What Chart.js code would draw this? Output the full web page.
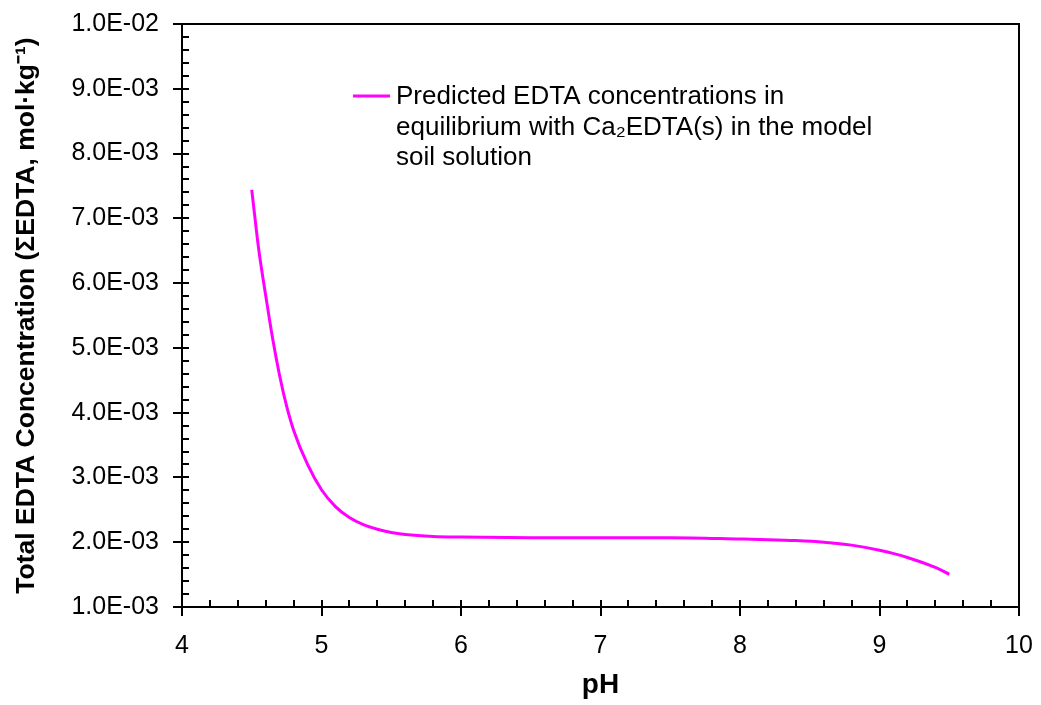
<!DOCTYPE html>
<html>
<head>
<meta charset="utf-8">
<title>Total EDTA concentration vs pH</title>
<script src="https://cdn.jsdelivr.net/npm/chart.js@4/dist/chart.umd.min.js"></script>
<style>
  html, body { margin: 0; padding: 0; background: #fff; }
  #wrap { width: 1041px; height: 705px; }
</style>
</head>
<body>
<div id="wrap"><canvas id="edtaChart" width="1041" height="705"></canvas></div>
<script>
// values
const phValues = [4.5, 4.55, 4.6, 4.65, 4.7, 4.75, 4.8, 4.9, 5.0, 5.1, 5.2, 5.3, 5.4, 5.5,
                  5.6, 5.8, 6.0, 6.5, 7.0, 7.5, 8.0, 8.2, 8.4, 8.6, 8.8, 9.0, 9.2, 9.4, 9.5];
const edtaTotal = [0.00744, 0.00652, 0.00581, 0.00514, 0.00457, 0.00410, 0.00373, 0.00320,
                   0.00281, 0.00255, 0.00238, 0.00227, 0.00220, 0.00215, 0.00212, 0.00209,
                   0.00208, 0.00207, 0.00207, 0.00207, 0.00205, 0.00204, 0.002025, 0.00200,
                   0.001955, 0.001875, 0.001765, 0.00161, 0.001505];
const seriesLabel = ['Predicted EDTA concentrations in',
                     'equilibrium with Ca\u2082EDTA(s) in the model',
                     'soil solution'];
const xTicks = [4, 5, 6, 7, 8, 9, 10];
const yTicks = [0.001, 0.002, 0.003, 0.004, 0.005, 0.006, 0.007, 0.008, 0.009, 0.010];
const minorPerMajor = 5;

function sciLabel(v) {
  const parts = Number(v).toExponential(1).split('e');
  const e = parseInt(parts[1], 10);
  return parts[0] + 'E' + (e < 0 ? '-' : '+') + String(Math.abs(e)).padStart(2, '0');
}

// box around the plot + Excel-like major/minor tick marks
const frameTicks = {
  id: 'frameTicks',
  afterDatasetsDraw(chart) {
    const { ctx, chartArea: a, scales: { x, y } } = chart;
    ctx.save();
    ctx.strokeStyle = '#000';
    ctx.lineWidth = 2;
    ctx.strokeRect(a.left, a.top, a.right - a.left, a.bottom - a.top);
    ctx.beginPath();
    yTicks.forEach((v, i) => {
      const py = Math.round(y.getPixelForValue(v));
      ctx.moveTo(a.left - 9, py); ctx.lineTo(a.left + 7, py);
      if (i < yTicks.length - 1) {
        const step = (yTicks[i + 1] - v) / minorPerMajor;
        for (let k = 1; k < minorPerMajor; k++) {
          const my = Math.round(y.getPixelForValue(v + k * step));
          ctx.moveTo(a.left, my); ctx.lineTo(a.left + 7, my);
        }
      }
    });
    xTicks.forEach((v, i) => {
      const px = Math.round(x.getPixelForValue(v));
      ctx.moveTo(px, a.bottom - 7); ctx.lineTo(px, a.bottom + 9);
      if (i < xTicks.length - 1) {
        const step = (xTicks[i + 1] - v) / minorPerMajor;
        for (let k = 1; k < minorPerMajor; k++) {
          const mx = Math.round(x.getPixelForValue(v + k * step));
          ctx.moveTo(mx, a.bottom - 7); ctx.lineTo(mx, a.bottom);
        }
      }
    });
    ctx.stroke();
    ctx.restore();
  }
};

// legend with a wrapped label, drawn inside the plot
const innerLegend = {
  id: 'innerLegend',
  afterDraw(chart) {
    const { ctx, chartArea: a } = chart;
    const ds = chart.data.datasets[0];
    const x0 = a.left + 171, y0 = a.top + 72, lh = 30.5;
    ctx.save();
    ctx.strokeStyle = ds.borderColor;
    ctx.lineWidth = 3;
    ctx.beginPath();
    ctx.moveTo(x0, y0); ctx.lineTo(x0 + 37, y0);
    ctx.stroke();
    ctx.fillStyle = '#000';
    ctx.font = '26px "Liberation Sans", Arial, sans-serif';
    ctx.textBaseline = 'middle';
    ctx.textAlign = 'left';
    seriesLabel.forEach((t, i) => ctx.fillText(t, x0 + 43, y0 + 1 + i * lh));
    ctx.restore();
  }
};

const ctx = document.getElementById('edtaChart').getContext('2d');
new Chart(ctx, {
  type: 'scatter',
  data: {
    datasets: [{
      label: seriesLabel.join(' '),
      data: phValues.map((p, i) => ({ x: p, y: edtaTotal[i] })),
      showLine: true,
      borderColor: '#FF00FF',
      borderWidth: 3,
      pointRadius: 0,
      cubicInterpolationMode: 'monotone'
    }]
  },
  options: {
    responsive: false,
    animation: false,
    layout: { padding: { top: 24, right: 22, left: 0, bottom: 0 } },
    plugins: {
      legend: { display: false },
      tooltip: { enabled: false }
    },
    scales: {
      x: {
        type: 'linear',
        min: 4, max: 10,
        afterBuildTicks: s => { s.ticks = xTicks.map(v => ({ value: v })); },
        afterFit: s => { s.height = 98; s.paddingLeft = 0; s.paddingRight = 0; },
        grid: { display: false, drawTicks: false },
        border: { display: false },
        ticks: {
          color: '#000',
          padding: 24,
          maxRotation: 0,
          font: { family: '"Liberation Sans", Arial, sans-serif', size: 25 }
        },
        title: {
          display: true,
          text: 'pH',
          color: '#000',
          padding: { top: 0, bottom: 3 },
          font: { family: '"Liberation Sans", Arial, sans-serif', size: 28, weight: 'bold' }
        }
      },
      y: {
        type: 'linear',
        min: 0.001, max: 0.01,
        afterBuildTicks: s => { s.ticks = yTicks.map(v => ({ value: v })); },
        afterFit: s => { s.width = 182; s.paddingTop = 0; s.paddingBottom = 0; },
        grid: { display: false, drawTicks: false },
        border: { display: false },
        ticks: {
          color: '#000',
          padding: 23,
          callback: v => sciLabel(v),
          font: { family: '"Liberation Sans", Arial, sans-serif', size: 25 }
        },
        title: {
          display: true,
          text: 'Total EDTA Concentration (\u03A3EDTA, mol\u00B7kg\u207B\u00B9)',
          color: '#000',
          padding: { top: 11, bottom: 0 },
          font: { family: '"Liberation Sans", Arial, sans-serif', size: 26.5, weight: 'bold' }
        }
      }
    }
  },
  plugins: [frameTicks, innerLegend]
});
</script>
</body>
</html>
